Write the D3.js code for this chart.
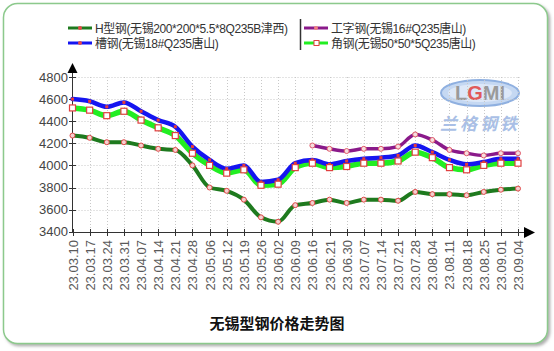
<!DOCTYPE html>
<html><head><meta charset="utf-8">
<script src="https://cdn.jsdelivr.net/npm/d3@7"></script>
<style>
html,body{margin:0;padding:0;background:#fff;}
svg{display:block;}
text{font-family:"Liberation Sans",Arial,"Noto Sans CJK SC",sans-serif;}
</style></head>
<body>
<script>
const dates = ["23.03.10","23.03.17","23.03.24","23.03.31","23.04.07","23.04.14","23.04.21","23.04.28","23.05.06","23.05.12","23.05.19","23.05.26","23.06.02","23.06.09","23.06.16","23.06.21","23.06.30","23.07.07","23.07.14","23.07.21","23.07.28","23.08.04","23.08.11","23.08.18","23.08.25","23.09.01","23.09.04"];
const hBeam   = [4270,4250,4210,4210,4180,4150,4140,4000,3800,3770,3690,3530,3490,3640,3660,3690,3660,3690,3690,3680,3760,3740,3740,3730,3760,3780,3790];
const channel = [4600,4580,4530,4570,4490,4410,4350,4170,4050,3970,4000,3850,3870,4020,4050,4010,4040,4060,4070,4090,4180,4120,4050,4010,4030,4060,4060];
const iBeam   = [null,null,null,null,null,null,null,null,null,null,null,null,null,null,4180,4150,4130,4150,4150,4170,4280,4230,4140,4110,4090,4110,4110];
const angle   = [4520,4500,4450,4490,4410,4340,4270,4110,4000,3930,3960,3820,3830,3980,4020,3980,3990,4020,4020,4040,4120,4070,3980,3960,4000,4020,4020];
const yTicks = [3400,3600,3800,4000,4200,4400,4600,4800];
const seriesNames = ["H型钢(无锡200*200*5.5*8Q235B津西)","工字钢(无锡16#Q235唐山)","槽钢(无锡18#Q235唐山)","角钢(无锡50*50*5Q235唐山)"];
const title = "无锡型钢价格走势图";

const W = 554, H = 351;
const svg = d3.select("body").append("svg").attr("width", W).attr("height", H);

const defs = svg.append("defs");
const f = defs.append("filter").attr("id","sh").attr("x","-5%").attr("y","-5%").attr("width","115%").attr("height","115%");
f.append("feDropShadow").attr("dx",2).attr("dy",2).attr("stdDeviation",1.5).attr("flood-color","#777").attr("flood-opacity",0.6);

// frame
svg.append("rect").attr("x",3.5).attr("y",3.5).attr("width",544).attr("height",340).attr("rx",14)
  .attr("fill","#fff").attr("stroke","#8cc98c").attr("stroke-width",1.5).attr("filter","url(#sh)");

const x = d3.scalePoint().domain(dates).range([72.5, 518]);
const y = d3.scaleLinear().domain([3400, 4800]).range([231.7, 77]);

// watermark
const wm = svg.append("g");
wm.append("ellipse").attr("cx",480).attr("cy",93).attr("rx",39).attr("ry",13)
  .attr("fill","#c5d8f2").attr("stroke","#8fb0e0").attr("stroke-width",2);
wm.append("ellipse").attr("cx",480).attr("cy",93).attr("rx",32).attr("ry",9).attr("fill","#dde8f8");
const lg = wm.append("text").attr("x",480).attr("y",100).attr("text-anchor","middle")
  .attr("font-size",20).attr("font-weight","bold").attr("fill","#9a9a9a");
lg.append("tspan").text("L");
lg.append("tspan").attr("fill","#e05a5a").text("G");
lg.append("tspan").text("MI");
wm.append("text").attr("x",480).attr("y",130).attr("text-anchor","middle")
  .attr("font-size",17).attr("letter-spacing",3).attr("font-weight","bold").attr("fill","#a9bfe6")
  .style("font-family","'Noto Sans CJK SC'").style("font-style","italic").text("兰格钢铁");

// grid
const grid = svg.append("g").attr("stroke","#c8c8c8").attr("stroke-width",1).attr("stroke-dasharray","1,2");
grid.selectAll("line.h").data(yTicks.slice(1)).join("line")
  .attr("x1",72.5).attr("x2",520).attr("y1",d=>Math.round(y(d))+0.5).attr("y2",d=>Math.round(y(d))+0.5);
grid.selectAll("line.v").data(dates.slice(1)).join("line")
  .attr("x1",d=>Math.round(x(d))+0.5).attr("x2",d=>Math.round(x(d))+0.5).attr("y1",77).attr("y2",231.7);

// axes
const axG = svg.append("g").attr("stroke","#333").attr("stroke-width",1);
axG.append("line").attr("x1",72.5).attr("x2",72.5).attr("y1",232).attr("y2",70);
axG.append("line").attr("x1",72.5).attr("x2",527).attr("y1",232.5).attr("y2",232.5);
svg.append("path").attr("d","M67.5,73 L72.5,63 L77.5,73 Z").attr("fill","#000");
svg.append("path").attr("d","M524,227 L535,232.5 L524,238 Z").attr("fill","#000");
axG.selectAll("line.yt").data(yTicks).join("line")
  .attr("x1",69).attr("x2",76).attr("y1",d=>Math.round(y(d))+0.5).attr("y2",d=>Math.round(y(d))+0.5);
axG.selectAll("line.xt").data(dates).join("line")
  .attr("x1",d=>Math.round(x(d))+0.5).attr("x2",d=>Math.round(x(d))+0.5).attr("y1",229).attr("y2",236);

svg.append("g").selectAll("text").data(yTicks).join("text")
  .attr("x",68).attr("y",d=>y(d)+4.5).attr("text-anchor","end").attr("font-size",13).attr("fill","#444").text(d=>d);
svg.append("g").selectAll("text").data(dates).join("text")
  .attr("transform",d=>`translate(${x(d)+5},240) rotate(-90)`).attr("text-anchor","end")
  .attr("font-size",13).attr("fill","#5a5a5a").text(d=>d);

// lines
const line = d3.line().defined(d=>d.v!=null).x(d=>x(d.d)).y(d=>y(d.v)).curve(d3.curveMonotoneX);
const mk = arr => arr.map((v,i)=>({d:dates[i], v}));
const series = [
  {data:angle, color:"#22ee22", w:5.5},
  {data:channel, color:"#1515f0", w:4.5},
  {data:hBeam, color:"#1e7a1e", w:4},
  {data:iBeam, color:"#8a1a8a", w:3.5}
];
series.forEach(s=>{
  svg.append("path").datum(mk(s.data)).attr("d",line).attr("fill","none")
    .attr("stroke",s.color).attr("stroke-width",s.w).attr("stroke-linejoin","round").attr("stroke-linecap","round");
});
// markers
const pts = a => mk(a).filter(d=>d.v!=null);
svg.append("g").selectAll("circle").data(pts(hBeam)).join("circle")
  .attr("cx",d=>x(d.d)).attr("cy",d=>y(d.v)).attr("r",2.5).attr("fill","#f4d0d0").attr("stroke","#e04848").attr("stroke-width",1);
svg.append("g").selectAll("rect").data(pts(channel)).join("rect")
  .attr("x",d=>x(d.d)-1.5).attr("y",d=>y(d.v)-1.5).attr("width",3).attr("height",3).attr("fill","#e83a3a");
svg.append("g").selectAll("circle").data(pts(iBeam)).join("circle")
  .attr("cx",d=>x(d.d)).attr("cy",d=>y(d.v)).attr("r",2.5).attr("fill","#f6dede").attr("stroke","#e05a6a").attr("stroke-width",1);
svg.append("g").selectAll("rect").data(pts(angle)).join("rect")
  .attr("x",d=>x(d.d)-3).attr("y",d=>y(d.v)-3).attr("width",6).attr("height",6).attr("fill","#fff").attr("stroke","#e04040").attr("stroke-width",1.2);

// legend
const leg = [
  {x:68, y:28, color:"#1e7a1e", name:seriesNames[0], m:"c"},
  {x:68, y:43, color:"#1515f0", name:seriesNames[2], m:"d"},
  {x:304, y:28, color:"#8a1a8a", name:seriesNames[1], m:"c2"},
  {x:304, y:43, color:"#22ee22", name:seriesNames[3], m:"s"}
];
const lgG = svg.append("g");
leg.forEach(l=>{
  lgG.append("line").attr("x1",l.x).attr("x2",l.x+24).attr("y1",l.y).attr("y2",l.y).attr("stroke",l.color).attr("stroke-width",3);
  if(l.m==="s") lgG.append("rect").attr("x",l.x+10).attr("y",l.y-2.5).attr("width",5).attr("height",5).attr("fill","#fff").attr("stroke","#e04040");
  else lgG.append("circle").attr("cx",l.x+12).attr("cy",l.y).attr("r",2).attr("fill",l.m==="c2"?"#f08080":"#e84848");
  lgG.append("text").attr("x",l.x+27).attr("y",l.y+4.5).attr("font-size",12).attr("letter-spacing",-0.4).attr("fill","#333").text(l.name);
});
lgG.append("line").attr("x1",300.5).attr("x2",300.5).attr("y1",19).attr("y2",50).attr("stroke","#333").attr("stroke-width",1.5);

svg.append("text").attr("x",277).attr("y",329).attr("text-anchor","middle").attr("font-size",15).attr("font-weight","bold")
  .attr("fill","#111").text(title);
</script>
</body></html>
